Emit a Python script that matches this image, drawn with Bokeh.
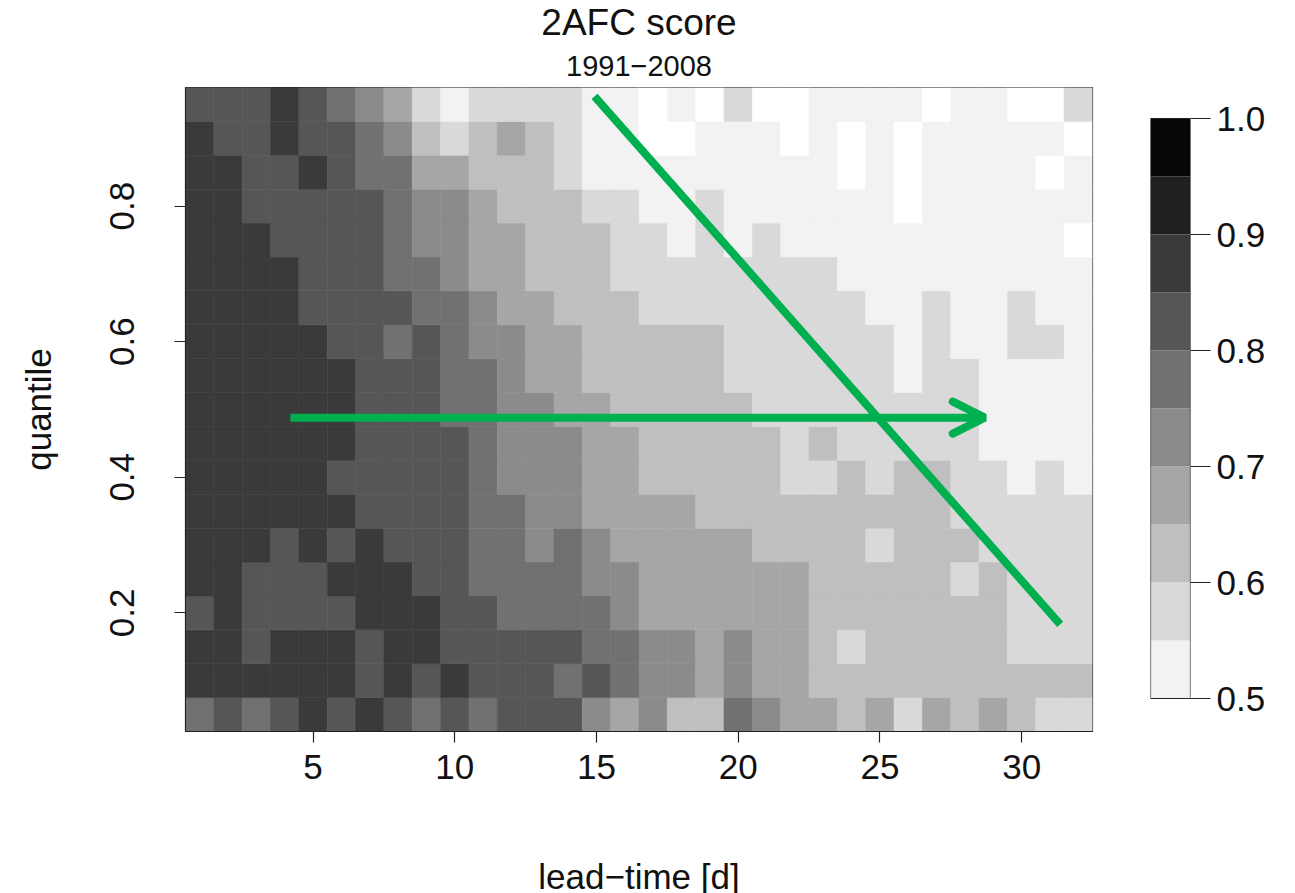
from bokeh.plotting import figure
from bokeh.models import (ColumnDataSource, LinearColorMapper, FixedTicker, Arrow,
                          OpenHead, Title, Range1d, PrintfTickFormatter)
from bokeh.layouts import row
from bokeh.embed import file_html
from bokeh.resources import INLINE

# ---------------- data ----------------
lead_time = list(range(1, 33))
quantiles = [0.05, 0.10, 0.15, 0.20, 0.25, 0.30, 0.35, 0.40, 0.45, 0.50,
             0.55, 0.60, 0.65, 0.70, 0.75, 0.80, 0.85, 0.90, 0.95]

score_q05 = [.775, .825, .775, .825, .875, .825, .875, .825, .775, .825, .775, .825, .825, .825, .725, .675,
             .725, .625, .625, .775, .725, .675, .675, .625, .675, .575, .675, .625, .675, .625, .575, .575]
score_q10 = [.875, .875, .875, .875, .875, .875, .825, .875, .825, .875, .825, .825, .825, .775, .825, .775,
             .725, .725, .675, .725, .675, .675, .625, .625, .625, .625, .625, .625, .625, .625, .625, .625]
score_q15 = [.875, .875, .825, .875, .875, .875, .825, .875, .875, .825, .825, .825, .825, .825, .775, .775,
             .725, .725, .675, .725, .675, .675, .625, .575, .625, .625, .625, .625, .625, .575, .575, .575]
score_q20 = [.825, .875, .825, .825, .825, .825, .875, .875, .875, .825, .825, .775, .775, .775, .775, .725,
             .675, .675, .675, .675, .675, .675, .625, .625, .625, .625, .625, .625, .625, .575, .575, .575]
score_q25 = [.875, .875, .825, .825, .825, .875, .875, .875, .825, .825, .775, .775, .775, .775, .725, .725,
             .675, .675, .675, .675, .675, .675, .625, .625, .625, .625, .625, .575, .625, .575, .575, .575]
score_q30 = [.875, .875, .875, .825, .875, .825, .875, .825, .825, .825, .775, .775, .725, .775, .725, .675,
             .675, .675, .675, .675, .625, .625, .625, .625, .575, .625, .625, .625, .575, .575, .575, .575]
score_q35 = [.875, .875, .875, .875, .875, .875, .825, .825, .825, .825, .775, .775, .725, .725, .675, .675,
             .675, .675, .625, .625, .625, .625, .625, .625, .625, .625, .625, .575, .575, .575, .575, .575]
score_q40 = [.875, .875, .875, .875, .875, .825, .825, .825, .825, .825, .775, .725, .725, .725, .675, .675,
             .625, .625, .625, .625, .625, .575, .575, .625, .575, .625, .625, .575, .575, .525, .575, .525]
score_q45 = [.875, .875, .875, .875, .875, .875, .825, .825, .825, .825, .775, .725, .725, .725, .675, .675,
             .625, .625, .625, .625, .625, .575, .625, .575, .575, .575, .575, .575, .525, .525, .525, .525]
score_q50 = [.875, .875, .875, .875, .875, .875, .825, .825, .825, .775, .775, .725, .725, .675, .675, .625,
             .625, .625, .625, .625, .575, .575, .575, .575, .575, .575, .575, .575, .525, .525, .525, .525]
score_q55 = [.875, .875, .875, .875, .875, .875, .825, .825, .825, .775, .775, .725, .675, .675, .625, .625,
             .625, .625, .625, .575, .575, .575, .575, .575, .575, .525, .575, .575, .525, .525, .525, .525]
score_q60 = [.875, .875, .875, .875, .875, .825, .825, .775, .825, .775, .725, .725, .675, .675, .625, .625,
             .625, .625, .625, .575, .575, .575, .575, .575, .575, .525, .575, .525, .525, .575, .575, .525]
score_q65 = [.875, .875, .875, .875, .825, .825, .825, .825, .775, .775, .725, .675, .675, .625, .625, .625,
             .575, .575, .575, .575, .575, .575, .575, .575, .525, .525, .575, .525, .525, .575, .525, .525]
score_q70 = [.875, .875, .875, .875, .825, .825, .825, .775, .775, .725, .675, .675, .625, .625, .625, .575,
             .575, .575, .575, .575, .575, .575, .575, .525, .525, .525, .525, .525, .525, .525, .525, .525]
score_q75 = [.875, .875, .875, .825, .825, .825, .825, .775, .725, .725, .675, .675, .625, .625, .625, .575,
             .575, .525, .575, .525, .575, .525, .525, .525, .525, .525, .525, .525, .525, .525, .525, .48]
score_q80 = [.875, .875, .825, .825, .825, .825, .825, .775, .725, .725, .675, .625, .625, .625, .575, .575,
             .525, .525, .575, .525, .525, .525, .525, .525, .525, .48, .525, .525, .525, .525, .525, .525]
score_q85 = [.875, .875, .825, .825, .875, .825, .775, .775, .675, .675, .625, .625, .625, .575, .525, .525,
             .525, .525, .525, .525, .525, .525, .525, .48, .525, .48, .525, .525, .525, .525, .48, .525]
score_q90 = [.875, .825, .825, .875, .825, .825, .775, .725, .625, .575, .625, .675, .625, .575, .525, .525,
             .48, .48, .525, .525, .525, .48, .525, .48, .525, .48, .525, .525, .525, .525, .525, .48]
score_q95 = [.825, .825, .825, .875, .825, .775, .725, .675, .575, .525, .575, .575, .575, .575, .525, .525,
             .48, .525, .48, .575, .48, .48, .525, .525, .525, .525, .48, .525, .525, .48, .48, .575]

score_rows = [score_q05, score_q10, score_q15, score_q20, score_q25, score_q30, score_q35,
              score_q40, score_q45, score_q50, score_q55, score_q60, score_q65, score_q70,
              score_q75, score_q80, score_q85, score_q90, score_q95]

level_edges = [0.50, 0.55, 0.60, 0.65, 0.70, 0.75, 0.80, 0.85, 0.90, 0.95, 1.00]
x_ticks = [5, 10, 15, 20, 25, 30]
y_ticks = [0.2, 0.4, 0.6, 0.8]
cb_ticks = [0.5, 0.6, 0.7, 0.8, 0.9, 1.0]

# green annotation lines (lead-time, quantile)
arrow_x = [4.2, 28.7]
arrow_y = [0.488, 0.488]
diag_x = [14.93, 31.36]
diag_y = [0.962, 0.183]

# ---------------- style ----------------
palette = ["#F2F2F2", "#D9D9D9", "#BFBFBF", "#A6A6A6", "#8B8B8B",
           "#717171", "#565656", "#3A3A3A", "#202020", "#070707"]
GREEN = "#00B050"
FONT = "Liberation Sans"
TICK_FS = "35px"
LABEL_FS = "35px"
TOP, FRAME_H, BOTTOM = 86, 644, 163

mapper = LinearColorMapper(palette=palette, low=0.5, high=1.0,
                           low_color="#FFFFFF", high_color="#070707")

xs, ys, vs = [], [], []
for q, vals in zip(quantiles, score_rows):
    for lt, v in zip(lead_time, vals):
        xs.append(lt)
        ys.append(q)
        vs.append(v)
src = ColumnDataSource(dict(x=xs, y=ys, v=vs))

p = figure(x_range=Range1d(0.5, 32.5), y_range=Range1d(0.025, 0.975),
           frame_width=907, frame_height=FRAME_H,
           min_border_left=185, min_border_right=2,
           min_border_top=TOP, min_border_bottom=BOTTOM,
           output_backend="svg", toolbar_location=None)
p.background_fill_color = "white"
p.border_fill_color = "white"
p.outline_line_color = "#222222"
p.outline_line_width = 1.2
p.xgrid.visible = False
p.ygrid.visible = False

p.rect(x="x", y="y", width=1, height=0.05, source=src,
       fill_color={"field": "v", "transform": mapper},
       line_color={"field": "v", "transform": mapper}, line_width=0.6)

p.line(diag_x, diag_y, line_color=GREEN, line_width=8)
p.line(arrow_x, arrow_y, line_color=GREEN, line_width=8)
p.add_layout(Arrow(end=OpenHead(line_color=GREEN, line_width=8, size=32, line_cap="round"),
                   x_start=arrow_x[0], y_start=arrow_y[0], x_end=arrow_x[1], y_end=arrow_y[1],
                   line_color=GREEN, line_width=0.01, line_alpha=0.0))

for ax in (p.xaxis[0], p.yaxis[0]):
    ax.major_label_text_font = FONT
    ax.major_label_text_font_size = TICK_FS
    ax.major_label_text_color = "#111111"
    ax.axis_label_text_font = FONT
    ax.axis_label_text_font_size = LABEL_FS
    ax.axis_label_text_font_style = "normal"
    ax.axis_label_text_color = "#111111"
    ax.major_tick_in = 0
    ax.major_tick_out = 11
    ax.major_tick_line_color = "#222222"
    ax.major_tick_line_width = 1.2
    ax.minor_tick_line_color = None
    ax.axis_line_color = "#222222"

p.xaxis.ticker = FixedTicker(ticks=x_ticks)
p.xaxis.axis_label = "lead\u2212time [d]"
p.xaxis.major_label_standoff = 12
p.xaxis.axis_label_standoff = 75

p.yaxis.ticker = FixedTicker(ticks=y_ticks)
p.yaxis.axis_label = "quantile"
p.yaxis.major_label_orientation = "vertical"
p.yaxis.major_label_standoff = 40
p.yaxis.axis_label_standoff = 50

p.add_layout(Title(text="1991\u22122008", align="center", vertical_align="top",
                   text_font=FONT, text_font_size="29px", text_font_style="normal",
                   text_color="#111111", standoff=19), "above")
p.add_layout(Title(text="2AFC score", align="center", vertical_align="top",
                   text_font=FONT, text_font_size="37px", text_font_style="normal",
                   text_color="#111111", standoff=3), "above")

# ---------------- colour bar (same frame height, bar occupies 117..697 px) ----------------
px_per_unit = 1160.0
cb_lo = 0.5 - (730 - 697) / px_per_unit
cb_hi = 1.0 + (117 - 86) / px_per_unit
cb = figure(x_range=Range1d(0, 1), y_range=Range1d(cb_lo, cb_hi),
            frame_width=40, frame_height=FRAME_H,
            min_border_left=56, min_border_right=100,
            min_border_top=TOP, min_border_bottom=BOTTOM,
            y_axis_location="right",
            output_backend="svg", toolbar_location=None)
cb.background_fill_color = "white"
cb.border_fill_color = "white"
cb.outline_line_color = None
cb.xgrid.visible = False
cb.ygrid.visible = False
cb.xaxis.visible = False
cb.quad(left=0, right=1, bottom=level_edges[:-1], top=level_edges[1:],
        fill_color=palette, line_color=None)
cb.quad(left=0, right=1, bottom=level_edges[0], top=level_edges[-1],
        fill_color=None, line_color="#222222", line_width=1.2)
ya = cb.yaxis[0]
ya.ticker = FixedTicker(ticks=cb_ticks)
ya.formatter = PrintfTickFormatter(format="%.1f")
ya.major_label_text_font = FONT
ya.major_label_text_font_size = TICK_FS
ya.major_label_text_color = "#111111"
ya.major_tick_in = 0
ya.major_tick_out = 20
ya.major_tick_line_color = "#222222"
ya.major_tick_line_width = 1.2
ya.minor_tick_line_color = None
ya.axis_line_color = None
ya.major_label_standoff = 6

layout = row(p, cb)
open("out.html", "w").write(file_html(layout, INLINE))
